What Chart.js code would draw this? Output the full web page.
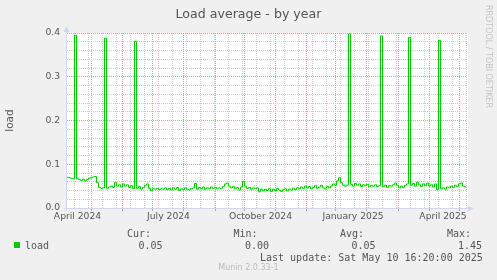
<!DOCTYPE html>
<html lang="en">
<head>
<meta charset="UTF-8">
<title>Load average - by year</title>
<script src="https://cdn.jsdelivr.net/npm/chart.js"></script>
<style>
    body {
        margin: 0;
        background-color: #f0f0f0;
        font-family: "DejaVu Sans", sans-serif;
    }
    #wrap {
        position: relative;
        width: 497px;
        height: 280px;
        overflow: hidden;
    }
    canvas {
        position: absolute;
        left: 0;
        top: 0;
    }
    .t {
        position: absolute;
        white-space: pre;
        color: #555;
    }
    .mono {
        font: 10px/12px "DejaVu Sans Mono", monospace;
    }
</style>
</head>
<body>
<div id="wrap">
    <canvas id="loadChart" width="497" height="280"></canvas>

    <div class="t" style="left:0; top:5.5px; width:497px; text-align:center; font:12.6px/15px 'DejaVu Sans';">Load average - by year</div>
    <div class="t" style="left:484px; top:5px; writing-mode:vertical-rl; font:8px/9px 'DejaVu Sans'; color:#c4c4c4;">RRDTOOL / TOBI OETIKER</div>

    <!-- legend -->
    <div style="position:absolute; left:14px; top:242px; width:6px; height:6px; background:#00cc00;"></div>
    <div class="t mono" style="left:25px; top:239.5px;">load</div>
    <div class="t mono" style="left:127px; top:228px;">Cur:</div>
    <div class="t mono" style="left:233.5px; top:228px;">Min:</div>
    <div class="t mono" style="left:340px; top:228px;">Avg:</div>
    <div class="t mono" style="left:447px; top:228px;">Max:</div>
    <div class="t mono" style="left:138.5px; top:239.5px;">0.05</div>
    <div class="t mono" style="left:245px; top:239.5px;">0.00</div>
    <div class="t mono" style="left:351.5px; top:239.5px;">0.05</div>
    <div class="t mono" style="left:458px; top:239.5px;">1.45</div>
    <div class="t mono" style="left:260px; top:251.5px;">Last update: Sat May 10 16:20:00 2025</div>
    <div class="t" style="left:0; top:262.5px; width:497px; text-align:center; font:8px/10px 'DejaVu Sans'; color:#bbb;">Munin 2.0.33-1</div>
</div>

<script>
// one value every 2 days, 400 days ending Sat May 10 2025
const stepDays = 2;
const load = [
    0.072, 0.070, 0.069, 0.068, 0.067, 0.395, 0.067, 0.065, 0.063, 0.066,
    0.062, 0.065, 0.068, 0.070, 0.071, 0.072, 0.058, 0.047, 0.045, 0.046,
    0.388, 0.045, 0.048, 0.050, 0.047, 0.058, 0.050, 0.053, 0.048, 0.055,
    0.050, 0.053, 0.047, 0.051, 0.044, 0.381, 0.045, 0.049, 0.043, 0.047,
    0.052, 0.055, 0.045, 0.040, 0.044, 0.043, 0.045, 0.042, 0.044, 0.043,
    0.046, 0.042, 0.045, 0.041, 0.046, 0.043, 0.047, 0.040, 0.044, 0.042,
    0.046, 0.043, 0.041, 0.044, 0.046, 0.056, 0.043, 0.047, 0.044, 0.048,
    0.043, 0.046, 0.044, 0.048, 0.045, 0.047, 0.044, 0.046, 0.045, 0.049,
    0.055, 0.057, 0.050, 0.046, 0.049, 0.044, 0.047, 0.041, 0.048, 0.061,
    0.050, 0.045, 0.047, 0.043, 0.046, 0.044, 0.046, 0.037, 0.043, 0.039,
    0.043, 0.040, 0.044, 0.038, 0.043, 0.040, 0.045, 0.041, 0.038, 0.042,
    0.044, 0.039, 0.043, 0.041, 0.045, 0.042, 0.046, 0.044, 0.048, 0.045,
    0.050, 0.046, 0.049, 0.044, 0.047, 0.051, 0.045, 0.048, 0.052, 0.046,
    0.044, 0.049, 0.046, 0.050, 0.055, 0.052, 0.062, 0.069, 0.058, 0.052,
    0.050, 0.052, 0.398, 0.054, 0.050, 0.056, 0.052, 0.055, 0.049, 0.053,
    0.051, 0.054, 0.048, 0.052, 0.050, 0.053, 0.049, 0.051, 0.393, 0.049,
    0.052, 0.047, 0.051, 0.050, 0.053, 0.057, 0.052, 0.046, 0.050, 0.047,
    0.052, 0.055, 0.390, 0.052, 0.056, 0.050, 0.059, 0.053, 0.049, 0.055,
    0.051, 0.057, 0.050, 0.053, 0.048, 0.055, 0.042, 0.383, 0.044, 0.046,
    0.043, 0.048, 0.046, 0.050, 0.047, 0.052, 0.049, 0.055, 0.057, 0.050,
    0.048
];

// x axis, in days from the start of the graph
const monthGridDays = [25, 56, 86, 117, 149, 178, 209, 240, 269, 300, 332, 363, 393];
const minorGridDays = [8, 22, 36, 50, 64, 78, 92, 106, 120, 134, 148, 162, 176, 190, 204,
                       218, 232, 246, 260, 274, 288, 302, 316, 330, 344, 358, 372, 386, 400];
const xLabelDays = [11, 102, 194, 286.5, 376.5];
const xLabels = ['April 2024', 'July 2024', 'October 2024', 'January 2025', 'April 2025'];

// y axis
const yMajorTicks = [0, 0.1, 0.2, 0.3, 0.4];
const yLabels = ['0.0', '0.1', '0.2', '0.3', '0.4'];
const yMinorTicks = [0.02, 0.04, 0.06, 0.08, 0.12, 0.14, 0.16, 0.18,
                     0.22, 0.24, 0.26, 0.28, 0.32, 0.34, 0.36, 0.38];

const RED = '#ec9898';
const GRAY = '#cccccc';
const AXIS = '#cfd6f8';
const tickFont = { family: 'DejaVu Sans', size: 9.2 };

// white canvas + rrdtool style axes with arrows
const plotFrame = {
    id: 'plotFrame',
    beforeDraw(chart) {
        const a = chart.chartArea, ctx = chart.ctx;
        ctx.save();
        ctx.fillStyle = '#fff';
        ctx.fillRect(Math.floor(a.left), a.top, a.right - a.left + 2, a.bottom - a.top);
        ctx.restore();
    },
    afterDatasetsDraw(chart) {
        const a = chart.chartArea, ctx = chart.ctx;
        const x0 = Math.floor(a.left) + 0.5, y0 = Math.floor(a.bottom) + 0.5;
        const xr = Math.floor(a.right);
        ctx.save();
        ctx.strokeStyle = AXIS;
        ctx.fillStyle = AXIS;
        ctx.lineWidth = 1;
        ctx.beginPath();
        ctx.moveTo(x0, a.bottom + 3);
        ctx.lineTo(x0, a.top - 3);
        ctx.moveTo(x0 - 3, y0);
        ctx.lineTo(xr + 3, y0);
        ctx.stroke();
        ctx.beginPath();
        ctx.moveTo(x0, a.top - 7);
        ctx.lineTo(x0 - 3, a.top - 1);
        ctx.lineTo(x0 + 3, a.top - 1);
        ctx.fill();
        ctx.beginPath();
        ctx.moveTo(xr + 7.5, y0);
        ctx.lineTo(xr + 1.5, y0 - 3);
        ctx.lineTo(xr + 1.5, y0 + 3);
        ctx.fill();
        ctx.restore();
    }
};

// a grid-only axis: static colour, no labels
function gridAxis(position, min, max, values, color, size, tickLen) {
    return {
        type: 'linear',
        position: position,
        min: min,
        max: max,
        afterBuildTicks: s => { s.ticks = values.map(v => ({ value: v })); },
        afterFit: s => { if (s.isHorizontal()) s.height = size; else s.width = size; },
        ticks: { display: false, autoSkip: false, maxTicksLimit: 1000 },
        grid: {
            color: color,
            lineWidth: 1,
            borderDash: [1, 1],
            drawTicks: tickLen > 0,
            tickLength: tickLen,
            tickColor: '#a8a8a8',
            tickBorderDash: []
        },
        border: { display: false, dash: [1, 1] }
    };
}

const ctx = document.getElementById('loadChart').getContext('2d');
new Chart(ctx, {
    type: 'line',
    data: {
        datasets: [{
            label: 'load',
            data: load.map((v, i) => ({ x: i * stepDays, y: v })),
            borderColor: '#00cc00',
            borderWidth: 1,
            stepped: 'after',
            pointRadius: 0,
            fill: false,
            xAxisID: 'x',
            yAxisID: 'y'
        }]
    },
    options: {
        responsive: false,
        animation: false,
        devicePixelRatio: 1,
        layout: { padding: { left: 0, top: 33, right: 30.5, bottom: 53 } },
        plugins: {
            legend: { display: false },
            tooltip: { enabled: false }
        },
        scales: {
            x: gridAxis('bottom', 0, 400, minorGridDays, GRAY, 0, 0),
            xm: gridAxis('bottom', 0, 400, monthGridDays, RED, 3, 3),
            xl: {
                type: 'linear',
                position: 'bottom',
                min: 0,
                max: 400,
                afterBuildTicks: s => { s.ticks = xLabelDays.map(d => ({ value: d })); },
                afterFit: s => { s.height = 16; },
                grid: { display: false, drawTicks: false },
                border: { display: false },
                ticks: {
                    autoSkip: false,
                    maxTicksLimit: 1000,
                    maxRotation: 0,
                    padding: 0,
                    color: '#555',
                    font: tickFont,
                    callback: (v, i) => xLabels[i]
                }
            },
            ym: gridAxis('left', 0, 0.4, yMinorTicks, GRAY, 0, 0),
            y: {
                type: 'linear',
                position: 'left',
                min: 0,
                max: 0.4,
                afterBuildTicks: s => { s.ticks = yMajorTicks.map(v => ({ value: v })); },
                afterFit: s => { s.width = 66.5; },
                ticks: {
                    autoSkip: false,
                    maxTicksLimit: 1000,
                    padding: 6.5,
                    color: '#555',
                    font: tickFont,
                    callback: (v, i) => yLabels[i]
                },
                grid: {
                    color: RED,
                    lineWidth: 1,
                    borderDash: [1, 1],
                    drawTicks: false
                },
                border: { display: false, dash: [1, 1] },
                title: {
                    display: true,
                    text: 'load',
                    color: '#555',
                    font: { family: 'DejaVu Sans', size: 10.5 },
                    padding: { top: 3.5, bottom: 0 }
                }
            }
        }
    },
    plugins: [plotFrame]
});
</script>
</body>
</html>
